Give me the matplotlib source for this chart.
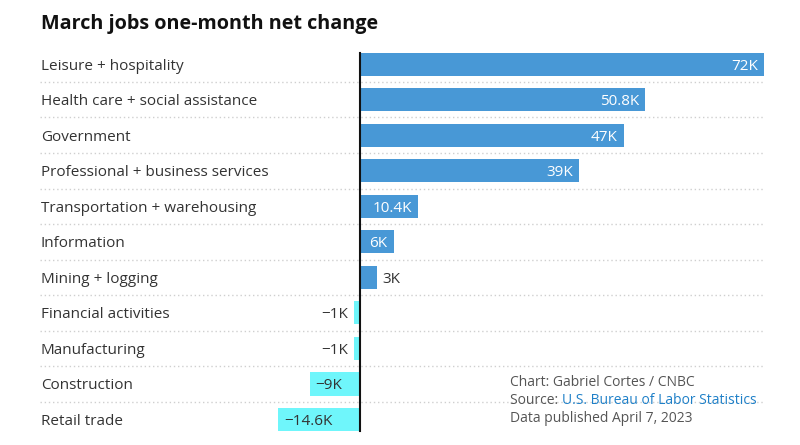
import matplotlib
matplotlib.use("Agg")
import matplotlib.pyplot as plt
from matplotlib.transforms import blended_transform_factory

categories = ["Leisure + hospitality", "Health care + social assistance", "Government",
              "Professional + business services", "Transportation + warehousing",
              "Information", "Mining + logging", "Financial activities", "Manufacturing",
              "Construction", "Retail trade"]
values = [72, 50.8, 47, 39, 10.4, 6, 3, -1, -1, -9, -14.6]
value_labels = ["72K", "50.8K", "47K", "39K", "10.4K", "6K", "3K", "\u22121K", "\u22121K", "\u22129K", "\u221214.6K"]

POS = "#4898d6"
NEG = "#6ff6fb"
TXT = "#333333"
FONT = "Open Sans"

W, H = 800, 445
fig = plt.figure(figsize=(W / 100, H / 100), dpi=100)
left_px, right_px = 40, 764
top_px, bot_px = 46.4, 437.3
ax = fig.add_axes([left_px / W, 1 - bot_px / H, (right_px - left_px) / W, (bot_px - top_px) / H])
zero_px = 360
xmax = 72.0
xmin = -xmax * (zero_px - left_px) / (right_px - zero_px)
ax.set_xlim(xmin, xmax)
n = len(categories)
ax.set_ylim(n - 0.5, -0.5)
ax.axis("off")

bh = 0.65
ys = list(range(n))
colors = [POS if v >= 0 else NEG for v in values]
ax.barh(ys, values, height=bh, color=colors, zorder=2)

for i in range(n - 1):
    ax.axhline(i + 0.5, color="#cfcfcf", lw=1, ls=(0, (1, 2)), zorder=1)

ax.plot([0, 0], [-bh / 2, n - 1 + bh / 2], color="#111111", lw=1.5, zorder=3)

px = (xmax - xmin) / (right_px - left_px)
trans = blended_transform_factory(ax.transAxes, ax.transData)
FS = 11
VA = "center_baseline"
for y, c in zip(ys, categories):
    ax.text(1 / (right_px - left_px), y, c, transform=trans, ha="left", va=VA,
            fontsize=FS, color=TXT, family=FONT)

for y, v, lab in zip(ys, values, value_labels):
    if v >= 0:
        if v > 4:
            ax.text(v - 6 * px, y, lab, ha="right", va=VA, fontsize=FS,
                    color="white", family=FONT, zorder=4)
        else:
            ax.text(v + 6 * px, y, lab, ha="left", va=VA, fontsize=FS,
                    color=TXT, family=FONT, zorder=4)
    else:
        if v > -5:
            ax.text(v - 6 * px, y, lab, ha="right", va=VA, fontsize=FS,
                    color=TXT, family=FONT, zorder=4)
        else:
            ax.text(v + 6 * px, y, lab, ha="left", va=VA, fontsize=FS,
                    color=TXT, family=FONT, zorder=4)

fig.text(41 / W, 1 - 22 / H, "March jobs one-month net change", ha="left", va="center_baseline",
         fontsize=14.2, fontweight="bold", color="#111111", family=FONT)

GRAY = "#555555"
FFS = 10
fig.text(510 / W, 1 - 383 / H, "Chart: Gabriel Cortes / CNBC", ha="left", va="center",
         fontsize=FFS, color=GRAY, family=FONT)
t = fig.text(510 / W, 1 - 401 / H, "Source: ", ha="left", va="center",
             fontsize=FFS, color=GRAY, family=FONT)
plt.annotate("U.S. Bureau of Labor Statistics", xy=(1, 0), xycoords=t, ha="left",
             va="bottom", fontsize=FFS, color="#1f80c8", family=FONT)
fig.text(510 / W, 1 - 419 / H, "Data published April 7, 2023", ha="left", va="center",
         fontsize=FFS, color=GRAY, family=FONT)

fig.savefig("out.png", dpi=100, facecolor="white")
